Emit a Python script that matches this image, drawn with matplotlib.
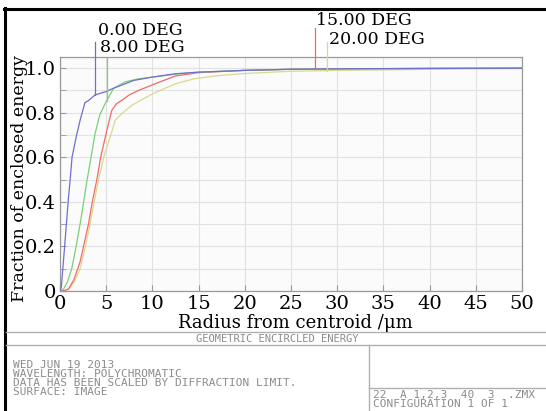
import numpy as np
import matplotlib
matplotlib.use("Agg")
import matplotlib.pyplot as plt

# ---- data ----
r_0deg = [0, 0.15, 0.5, 0.9, 1.1, 1.3, 1.8, 2.2, 2.7, 3.1, 3.8, 5.0, 5.8, 8.0, 10.0, 12.5, 15, 20, 25, 30, 40, 50]
e_0deg = [0, 0.02, 0.2, 0.41, 0.5, 0.6, 0.7, 0.77, 0.845, 0.855, 0.88, 0.895, 0.91, 0.945, 0.96, 0.975, 0.982, 0.99, 0.995, 0.997, 0.999, 1.0]

r_8deg = [0, 0.4, 0.8, 1.27, 1.7, 2.17, 2.6, 2.9, 3.4, 3.8, 4.3, 4.9, 5.8, 7.07, 8.5, 10.3, 12.5, 15, 20, 25, 30, 50]
e_8deg = [0, 0.01, 0.04, 0.10, 0.19, 0.30, 0.41, 0.49, 0.61, 0.707, 0.79, 0.842, 0.909, 0.939, 0.952, 0.961, 0.973, 0.982, 0.99, 0.995, 0.997, 1.0]

r_15deg = [0, 0.5, 0.9, 1.5, 2.17, 2.6, 3.08, 3.5, 3.99, 4.4, 4.9, 5.3, 5.6, 6.1, 6.7, 7.5, 8.5, 10.3, 12.5, 15, 20, 25, 30, 50]
e_15deg = [0, 0.002, 0.008, 0.05, 0.13, 0.21, 0.30, 0.40, 0.50, 0.60, 0.69, 0.76, 0.81, 0.84, 0.856, 0.88, 0.90, 0.93, 0.965, 0.98, 0.99, 0.995, 0.997, 1.0]

r_20deg = [0, 0.5, 1.0, 1.6, 2.17, 2.7, 3.26, 3.7, 4.17, 4.8, 5.43, 5.98, 6.8, 7.8, 9.0, 10.3, 12.5, 14.5, 17, 20, 25, 30, 37, 42, 50]
e_20deg = [0, 0.002, 0.01, 0.045, 0.10, 0.19, 0.30, 0.40, 0.50, 0.61, 0.69, 0.767, 0.80, 0.834, 0.862, 0.89, 0.93, 0.952, 0.966, 0.976, 0.986, 0.99, 0.993, 0.996, 0.998]

labels = ["0.00 DEG", "8.00 DEG", "15.00 DEG", "20.00 DEG"]
colors = ["#6f6fd0", "#7ccf7c", "#f06a6a", "#d9d98e"]
# label-leader x positions (µm) and label anchor positions
leader_x = [3.8, 5.07, 27.6, 28.9]
leader_top = [1.117, 1.05, 1.178, 1.118]
label_xy = [(4.13, 1.17), (4.35, 1.091), (27.7, 1.212), (29.1, 1.129)]

xticks = [0, 5, 10, 15, 20, 25, 30, 35, 40, 45, 50]
yticks = [0, 0.2, 0.4, 0.6, 0.8, 1.0]
yticklabels = ["0", "0.2", "0.4", "0.6", "0.8", "1.0"]

footer_left = ["WED JUN 19 2013",
               "WAVELENGTH: POLYCHROMATIC",
               "DATA HAS BEEN SCALED BY DIFFRACTION LIMIT.",
               "SURFACE: IMAGE"]
footer_right = ["22  A 1,2,3  40  3  .ZMX", "CONFIGURATION 1 OF 1"]
footer_title = "GEOMETRIC ENCIRCLED ENERGY"

W, H = 546, 411
fig = plt.figure(figsize=(W / 100, H / 100), dpi=100)
fig.patch.set_facecolor("white")

ax = fig.add_axes([60 / W, (H - 291) / H, 462 / W, 234 / H])
ax.set_facecolor("#fbfbfb")

series = [(r_0deg, e_0deg), (r_8deg, e_8deg), (r_15deg, e_15deg), (r_20deg, e_20deg)]
for (r, e), c in zip(series[::-1], colors[::-1]):
    ax.plot(r, e, color=c, lw=0.9, zorder=3)

ax.set_xlim(0, 50)
ax.set_ylim(0, 1.05)
ax.set_xticks(xticks)
ax.set_yticks(yticks)
ax.set_yticklabels(yticklabels)
ax.set_yticks(np.arange(0.1, 1.05, 0.2), minor=True)
ax.grid(True, which="both", color="#e2e2e2", lw=0.8)
ax.tick_params(which="both", direction="in", length=4, color="#999999",
               labelsize=14, pad=3)
for s in ax.spines.values():
    s.set_color("#999999")
    s.set_linewidth(0.9)
for lab in ax.get_xticklabels() + ax.get_yticklabels():
    lab.set_fontfamily("DejaVu Serif")

ax.set_xlabel("Radius from centroid /\u03bcm", fontsize=13, family="DejaVu Serif")
ax.set_ylabel("Fraction of enclosed energy", fontsize=12.5, family="DejaVu Serif")
ax.xaxis.set_label_coords(0.509, -0.1)
ax.yaxis.set_label_coords(-0.07, 0.48)

# leaders and labels
for (r, e), c, lx, lt, (tx, ty), lab in zip(series, colors, leader_x, leader_top, label_xy, labels):
    yb = float(np.interp(lx, r, e))
    ax.plot([lx, lx], [yb, lt], color=c, lw=0.9, clip_on=False, zorder=4)
    ax.text(tx, ty, lab, fontsize=12.5, family="DejaVu Serif", ha="left", va="center",
            clip_on=False)

# ---- frame / footer overlay in pixel coordinates ----
ov = fig.add_axes([0, 0, 1, 1], zorder=-1)
ov.set_xlim(0, W)
ov.set_ylim(H, 0)
ov.axis("off")
ov.patch.set_alpha(0)

ov.plot([5, 5], [8, H], color="black", lw=2.2)
ov.plot([4, W], [9, 9], color="black", lw=2.2)
gray = "#b0b0b0"
ov.plot([6, W], [331.7, 331.7], color=gray, lw=1)
ov.plot([6, W], [344.5, 344.5], color=gray, lw=1)
ov.plot([369, 369], [344.5, H], color=gray, lw=1)
ov.plot([369, W], [388, 388], color=gray, lw=1)

tcol = "#8c8c8c"
ov.text(277, 339, footer_title, fontsize=7.5, family="DejaVu Sans Mono", color=tcol,
        ha="center", va="center")
ov.text(13, 359.5, "\n".join(footer_left), fontsize=8, family="DejaVu Sans Mono",
        color=tcol, ha="left", va="top", linespacing=0.9)
ov.text(373, 390, "\n".join(footer_right), fontsize=8, family="DejaVu Sans Mono",
        color=tcol, ha="left", va="top", linespacing=0.92)

fig.savefig("out.png", dpi=100)
